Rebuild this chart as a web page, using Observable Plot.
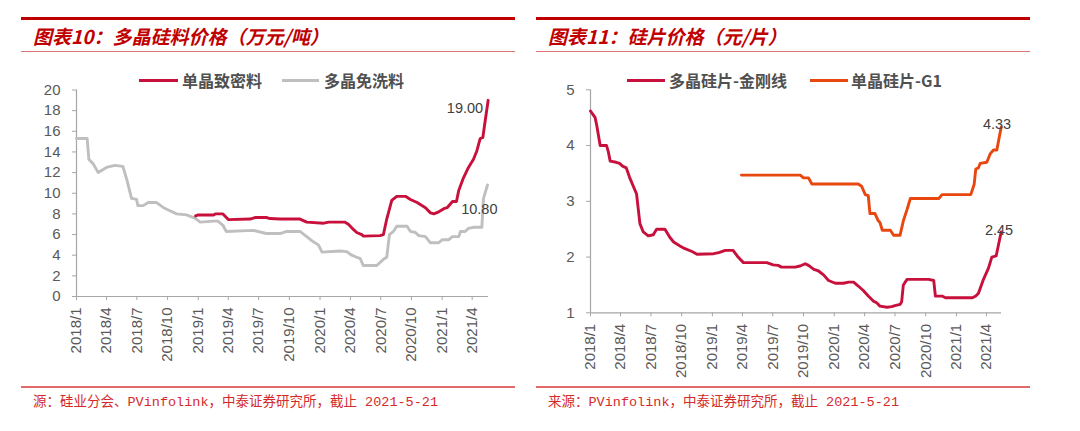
<!DOCTYPE html>
<html><head><meta charset="utf-8">
<script src="https://cdn.jsdelivr.net/npm/d3@7"></script>
<script src="https://cdn.jsdelivr.net/npm/@observablehq/plot@0.6"></script>
<style>
body{margin:0;width:1080px;height:431px;position:relative;background:#fff;overflow:hidden;font-family:"Liberation Sans","Noto Sans CJK SC",sans-serif}
.abs{position:absolute}
.thick{height:3px;background:#C00000}
.thin{height:1px;background:#D97676}
.bot{height:1.5px;background:#E36A6A}
.title{font-family:"Noto Sans CJK SC",sans-serif;font-weight:700;font-style:italic;font-size:19px;color:#C00000;line-height:20px;white-space:nowrap}
.cap{font-family:"Liberation Mono","Noto Sans CJK SC",monospace;font-size:13.5px;color:#D42A2A;line-height:16px;white-space:nowrap}
.sw{height:3px}
.lg{font-family:"Noto Sans CJK SC",sans-serif;font-weight:700;font-size:16px;color:#505050;line-height:18px;white-space:nowrap}
svg{overflow:visible}
</style></head><body>
<script>
// ---------- data: 图表10 多晶硅料价格（万元/吨）----------
const polyCleanSeries = [ // 多晶免洗料
["2018-01-01",15.3],["2018-02-02",15.3],["2018-02-07",13.3],["2018-02-21",12.8],["2018-03-07",12.0],
["2018-04-01",12.5],["2018-04-26",12.7],["2018-05-20",12.6],["2018-06-01",11.3],["2018-06-15",9.5],
["2018-06-30",9.4],["2018-07-04",8.8],["2018-07-20",8.8],["2018-08-04",9.1],["2018-08-29",9.1],
["2018-09-19",8.6],["2018-10-08",8.3],["2018-10-28",8.0],["2018-11-27",7.9],["2018-12-22",7.6],
["2019-01-07",7.2],["2019-02-16",7.3],["2019-03-01",7.3],["2019-03-16",6.9],["2019-03-26",6.3],
["2019-06-15",6.4],["2019-07-24",6.1],["2019-09-03",6.1],["2019-09-23",6.3],["2019-11-02",6.3],
["2019-11-22",5.8],["2019-12-12",5.3],["2019-12-27",5.0],["2020-01-07",4.3],["2020-03-01",4.4],
["2020-03-21",4.35],["2020-04-05",4.0],["2020-04-20",3.8],["2020-04-30",3.7],["2020-05-10",3.0],
["2020-06-19",3.0],["2020-07-09",3.6],["2020-07-19",3.8],["2020-07-27",6.0],["2020-08-08",6.3],
["2020-08-18",6.8],["2020-09-18",6.8],["2020-09-28",6.3],["2020-10-13",6.2],["2020-10-23",5.9],
["2020-11-12",5.8],["2020-11-27",5.2],["2020-12-22",5.2],["2021-01-01",5.5],["2021-01-21",5.5],
["2021-02-01",5.8],["2021-02-20",5.8],["2021-02-25",6.3],["2021-03-11",6.3],["2021-03-21",6.6],
["2021-04-05",6.7],["2021-04-30",6.7],["2021-05-05",9.5],["2021-05-17",10.8]
];
const monoDenseSeries = [ // 单晶致密料
["2018-12-24",7.8],["2019-01-01",7.9],["2019-02-16",7.9],["2019-02-21",8.0],["2019-03-16",8.0],
["2019-04-01",7.45],["2019-06-05",7.5],["2019-06-20",7.65],["2019-07-24",7.65],["2019-08-04",7.55],
["2019-09-03",7.5],["2019-11-02",7.5],["2019-11-22",7.2],["2020-01-12",7.1],["2020-01-27",7.2],
["2020-03-16",7.2],["2020-03-26",7.0],["2020-04-10",6.5],["2020-04-20",6.2],["2020-05-05",6.0],
["2020-05-10",5.85],["2020-06-29",5.9],["2020-07-09",6.0],["2020-07-19",7.5],["2020-08-03",9.3],
["2020-08-18",9.7],["2020-09-13",9.7],["2020-09-28",9.4],["2020-10-18",9.1],["2020-11-12",8.6],
["2020-11-27",8.1],["2020-12-07",8.0],["2020-12-22",8.2],["2021-01-06",8.5],["2021-01-16",8.6],
["2021-02-01",9.2],["2021-02-13",9.2],["2021-02-20",10.3],["2021-03-06",11.5],["2021-03-21",12.5],
["2021-04-05",13.3],["2021-04-15",14.1],["2021-04-25",15.3],["2021-05-03",15.4],["2021-05-10",17.0],
["2021-05-19",19.0]
];
const leftYTicks = [0,2,4,6,8,10,12,14,16,18,20];

// ---------- data: 图表11 硅片价格（元/片）----------
const polyWaferSeries = [ // 多晶硅片-金刚线
["2018-01-01",4.62],["2018-01-15",4.5],["2018-01-20",4.35],["2018-01-30",4.0],["2018-02-18",4.0],
["2018-02-23",3.9],["2018-03-01",3.72],["2018-03-19",3.7],["2018-03-29",3.68],["2018-04-07",3.63],
["2018-04-18",3.6],["2018-04-28",3.43],["2018-05-19",3.13],["2018-05-29",2.6],["2018-06-08",2.45],
["2018-06-23",2.38],["2018-07-08",2.4],["2018-07-18",2.5],["2018-08-12",2.5],["2018-08-27",2.35],
["2018-09-07",2.27],["2018-09-26",2.2],["2018-10-11",2.15],["2018-11-01",2.1],["2018-11-16",2.05],
["2019-01-05",2.06],["2019-01-20",2.08],["2019-02-09",2.12],["2019-03-04",2.12],["2019-03-19",2.0],
["2019-04-04",1.9],["2019-06-13",1.9],["2019-07-02",1.86],["2019-07-17",1.85],["2019-07-27",1.82],
["2019-09-06",1.82],["2019-09-21",1.84],["2019-10-06",1.88],["2019-10-16",1.85],["2019-11-01",1.78],
["2019-11-15",1.75],["2019-11-30",1.68],["2019-12-15",1.58],["2020-01-04",1.53],["2020-01-29",1.53],
["2020-02-13",1.55],["2020-02-28",1.55],["2020-03-13",1.48],["2020-03-28",1.4],["2020-04-12",1.3],
["2020-04-27",1.21],["2020-05-07",1.18],["2020-05-17",1.12],["2020-06-07",1.1],["2020-06-21",1.11],
["2020-07-01",1.13],["2020-07-16",1.15],["2020-07-21",1.2],["2020-07-26",1.5],["2020-08-06",1.6],
["2020-10-10",1.6],["2020-10-25",1.58],["2020-10-30",1.3],["2020-11-19",1.3],["2020-11-29",1.27],
["2021-02-18",1.27],["2021-02-28",1.3],["2021-03-08",1.35],["2021-03-23",1.6],["2021-04-07",1.8],
["2021-04-17",2.0],["2021-04-30",2.02],["2021-05-15",2.45]
];
const monoWaferSeries = [ // 单晶硅片-G1
["2019-03-29",3.47],["2019-09-21",3.47],["2019-10-01",3.42],["2019-10-16",3.42],["2019-10-26",3.31],
["2020-03-13",3.31],["2020-03-23",3.27],["2020-04-03",3.12],["2020-04-12",3.1],["2020-04-17",2.78],
["2020-05-02",2.78],["2020-05-12",2.65],["2020-05-17",2.62],["2020-05-24",2.48],["2020-06-17",2.48],
["2020-06-27",2.39],["2020-07-16",2.39],["2020-07-26",2.65],["2020-08-06",2.85],["2020-08-16",3.05],
["2020-11-09",3.05],["2020-11-19",3.12],["2021-02-13",3.12],["2021-02-23",3.3],["2021-02-28",3.58],
["2021-03-08",3.6],["2021-03-13",3.68],["2021-04-02",3.7],["2021-04-12",3.85],["2021-04-22",3.92],
["2021-05-02",3.92],["2021-05-15",4.33]
];
const rightYTicks = [1,2,3,4,5];

const xTickLabels = ["2018/1","2018/4","2018/7","2018/10","2019/1","2019/4","2019/7","2019/10",
"2020/1","2020/4","2020/7","2020/10","2021/1","2021/4"];

// ---------- helpers ----------
const parse = d3.utcParse("%Y-%m-%d");
const toRows = (arr) => arr.map(([d, v]) => ({date: parse(d), value: v}));
const xTicks = xTickLabels.map(s => { const [y, m] = s.split("/").map(Number); return new Date(Date.UTC(y, m - 1, 1)); });
const fmt = (d) => `${d.getUTCFullYear()}/${d.getUTCMonth() + 1}`;

const RED = "#C8103C", GREY = "#BFBFBF", ORANGE = "#E8470F", AX = "#A6A6A6", TXT = "#595959";

function chart({series, yDomain, yTicks, xEnd, margins, labels}) {
  return Plot.plot({
    width: 540, height: 380,
    marginLeft: margins[0], marginRight: margins[1], marginTop: margins[2], marginBottom: margins[3],
    style: {fontFamily: "Liberation Sans, Arial, sans-serif", fontSize: "15px", color: TXT, background: "transparent", overflow: "visible"},
    x: {type: "utc", domain: [parse("2018-01-01"), parse(xEnd)]},
    y: {domain: yDomain},
    marks: [
      Plot.axisY({ticks: yTicks, tickFormat: d => String(d), tickSize: 4, tickPadding: 12, stroke: AX, fill: TXT, label: null, fontSize: 15}),
      Plot.axisX({ticks: xTicks, tickFormat: fmt, tickSize: 4, tickPadding: 7, tickRotate: -90, stroke: AX, fill: TXT, label: null, fontSize: 15}),
      Plot.ruleX([parse("2018-01-01")], {stroke: AX, strokeWidth: 1.2}),
      Plot.ruleY([yDomain[0]], {stroke: AX, strokeWidth: 1.2}),
      ...series.map(s => Plot.line(toRows(s.data), {x: "date", y: "value", stroke: s.color, strokeWidth: 2.9, strokeLinejoin: "round"})),
      ...labels.map(l => Plot.text([toRows(l.data).at(-1)], {x: "date", y: "value", text: d => d.value.toFixed(2), textAnchor: "end", dx: l.dx, dy: l.dy, fill: "#404040", fontSize: 14.5}))
    ]
  });
}

function el(tag, cls, css, html) {
  const e = document.createElement(tag);
  e.className = cls; Object.assign(e.style, css); if (html) e.innerHTML = html;
  document.body.appendChild(e); return e;
}

// ---------- left panel ----------
const left = chart({
  series: [{data: polyCleanSeries, color: GREY}, {data: monoDenseSeries, color: RED}],
  yDomain: [0, 20], yTicks: leftYTicks, xEnd: "2021-05-20",
  margins: [76, 52, 89.5, 84],
  labels: [{data: monoDenseSeries, dx: -5, dy: 8}, {data: polyCleanSeries, dx: 10, dy: 24}]
});
left.style.position = "absolute"; left.style.left = "0px"; left.style.top = "0px";
document.body.appendChild(left);

// ---------- right panel ----------
const right = chart({
  series: [{data: polyWaferSeries, color: RED}, {data: monoWaferSeries, color: ORANGE}],
  yDomain: [1, 5], yTicks: rightYTicks, xEnd: "2021-05-16",
  margins: [50, 79, 89.3, 67.7],
  labels: [{data: monoWaferSeries, dx: 10, dy: -3}, {data: polyWaferSeries, dx: 12, dy: -2}]
});
right.style.position = "absolute"; right.style.left = "540px"; right.style.top = "0px";
document.body.appendChild(right);

// ---------- frames, titles, legends, captions ----------
el("div", "abs thick", {left: "21px", top: "17px", width: "494px"});
el("div", "abs thick", {left: "536px", top: "17px", width: "494px"});
el("div", "abs title", {left: "33px", top: "26px"}, "图表10：多晶硅料价格（万元/吨）");
el("div", "abs title", {left: "548px", top: "26px"}, "图表11：硅片价格（元/片）");
el("div", "abs thin", {left: "21px", top: "51px", width: "494px"});
el("div", "abs thin", {left: "536px", top: "51px", width: "494px"});

el("div", "abs sw", {left: "139px", top: "79px", width: "39px", background: RED});
el("div", "abs lg", {left: "182px", top: "71px"}, "单晶致密料");
el("div", "abs sw", {left: "282px", top: "79px", width: "37px", background: GREY});
el("div", "abs lg", {left: "324px", top: "71px"}, "多晶免洗料");
el("div", "abs sw", {left: "627px", top: "79px", width: "38px", background: RED});
el("div", "abs lg", {left: "669px", top: "71px"}, "多晶硅片-金刚线");
el("div", "abs sw", {left: "810px", top: "79px", width: "38px", background: ORANGE});
el("div", "abs lg", {left: "851px", top: "71px"}, "单晶硅片-G1");

el("div", "abs bot", {left: "21px", top: "386px", width: "494px"});
el("div", "abs bot", {left: "536px", top: "386px", width: "494px"});
el("div", "abs cap", {left: "33px", top: "395px"}, "源：硅业分会、PVinfolink，中泰证券研究所，截止 2021-5-21");
el("div", "abs cap", {left: "548px", top: "395px"}, "来源：PVinfolink，中泰证券研究所，截止 2021-5-21");
</script>
</body></html>
